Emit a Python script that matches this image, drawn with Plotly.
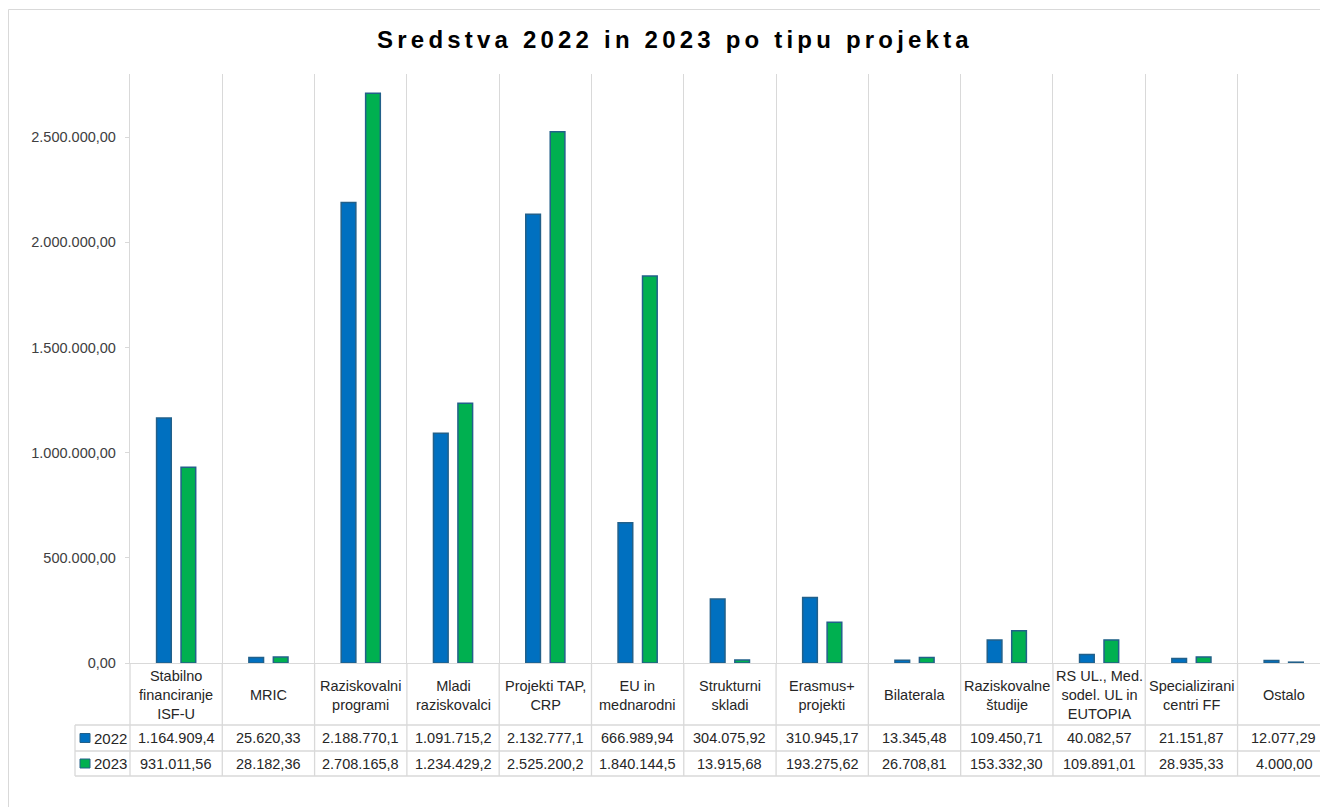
import plotly.graph_objects as go

# ---------------- data ----------------
title_text = "Sredstva 2022 in 2023 po tipu projekta"
categories = [
    "Stabilno\nfinanciranje\nISF-U",
    "MRIC",
    "Raziskovalni\nprogrami",
    "Mladi\nraziskovalci",
    "Projekti TAP,\nCRP",
    "EU in\nmednarodni",
    "Strukturni\nskladi",
    "Erasmus+\nprojekti",
    "Bilaterala",
    "Raziskovalne\nštudije",
    "RS UL., Med.\nsodel. UL in\nEUTOPIA",
    "Specializirani\ncentri FF",
    "Ostalo",
]
series_names = ["2022", "2023"]
values_2022 = [1164909.4, 25620.33, 2188770.1, 1091715.2, 2132777.1, 666989.94,
               304075.92, 310945.17, 13345.48, 109450.71, 40082.57, 21151.87, 12077.29]
values_2023 = [931011.56, 28182.36, 2708165.8, 1234429.2, 2525200.2, 1840144.5,
               13915.68, 193275.62, 26708.81, 153332.30, 109891.01, 28935.33, 4000.00]
y_tick_values = [0, 500000, 1000000, 1500000, 2000000, 2500000]

# ---------------- styles / geometry ----------------
OFF = 8                      # page body margin of the html page
W, H = 1328 - OFF, 807 - OFF
L_PAGE, T_PAGE, AXIS_Y_PAGE = 130, 74, 663
L, R, T = L_PAGE - OFF, 0, T_PAGE - OFF
B = H - (AXIS_Y_PAGE - OFF)
PW, PH = W - L - R, AXIS_Y_PAGE - T_PAGE
X_RANGE = [-0.5, 12.48]
Y_RANGE = [0, 2800000]
COLORS = ["#0070C0", "#00B050"]
OUTLINE = "#22608A"
GRID = "#D9D9D9"
FONT = "Liberation Sans, Arial, sans-serif"
TEXT = "#262626"


def xp(px):
    """page pixel x -> paper coordinate"""
    return (px - L_PAGE) / PW


def yp(py):
    """page pixel y -> paper coordinate"""
    return (AXIS_Y_PAGE - py) / PH


def fmt(v):
    dec = 1 if v >= 1e6 else 2
    s = f"{v:,.{dec}f}"
    return s.replace(",", "X").replace(".", ",").replace("X", ".")


fig = go.Figure()
for name, vals, col in zip(series_names, [values_2022, values_2023], COLORS):
    fig.add_trace(go.Bar(
        x=categories, y=vals, name=name,
        marker=dict(color=col, line=dict(color=OUTLINE, width=1.5)),
        hoverinfo="x+y",
    ))

# table geometry (page pixels)
HEADER_TOP, HEADER_BOT, ROW1_BOT, ROW2_BOT = AXIS_Y_PAGE, 725, 751, 776
LEG_LEFT = 75
row_centers = [(HEADER_BOT + ROW1_BOT) / 2, (ROW1_BOT + ROW2_BOT) / 2]

annotations = []
for c in categories:
    annotations.append(dict(
        x=c, xref="x", y=yp((HEADER_TOP + HEADER_BOT) / 2 + 1), yref="paper",
        text=c.replace("\n", "<br>"), showarrow=False, xanchor="center",
        yanchor="middle", align="center",
        font=dict(family=FONT, size=14.5, color=TEXT),
    ))
for vals, rc in zip([values_2022, values_2023], row_centers):
    for c, v in zip(categories, vals):
        annotations.append(dict(
            x=c, xref="x", y=yp(rc), yref="paper", text=fmt(v),
            showarrow=False, xanchor="center", yanchor="middle",
            font=dict(family=FONT, size=14.5, color=TEXT),
        ))

shapes = []
for name, col, rc in zip(series_names, COLORS, row_centers):
    shapes.append(dict(type="rect", xref="paper", yref="paper",
                       x0=xp(80), x1=xp(90), y0=yp(rc - 4.5), y1=yp(rc + 4.5),
                       fillcolor=col, line=dict(color=OUTLINE, width=1)))
    annotations.append(dict(
        x=xp(92), xref="paper", y=yp(rc), yref="paper", text=name,
        showarrow=False, xanchor="left", yanchor="middle",
        font=dict(family=FONT, size=15, color=TEXT),
    ))

n = len(categories)
span = X_RANGE[1] - X_RANGE[0]
for k in range(n + 1):
    x = k / span
    shapes.append(dict(type="line", xref="paper", yref="paper",
                       x0=x, x1=x, y0=0, y1=yp(ROW2_BOT),
                       line=dict(color=GRID, width=1.3)))
shapes.append(dict(type="line", xref="paper", yref="paper",
                   x0=xp(LEG_LEFT), x1=xp(LEG_LEFT), y0=yp(HEADER_BOT), y1=yp(ROW2_BOT),
                   line=dict(color=GRID, width=1.3)))
for py in [HEADER_BOT, ROW1_BOT, ROW2_BOT]:
    shapes.append(dict(type="line", xref="paper", yref="paper",
                       x0=xp(LEG_LEFT), x1=1.02, y0=yp(py), y1=yp(py),
                       line=dict(color=GRID, width=1.3)))
shapes.append(dict(type="rect", xref="paper", yref="paper",
                   x0=xp(8.5), x1=1.05, y0=-0.4, y1=yp(9.5),
                   line=dict(color=GRID, width=1), fillcolor="rgba(0,0,0,0)", layer="below"))

fig.update_layout(
    width=W, height=H,
    margin=dict(l=L, r=R, t=T, b=B, pad=0),
    template="none",
    paper_bgcolor="white", plot_bgcolor="white",
    separators=",.",
    showlegend=False,
    barmode="group", bargap=0.47, bargroupgap=0.4,
    title=dict(
        text=f'<span style="letter-spacing:4.2px">{title_text}</span>',
        x=(675 - OFF) / W, xanchor="center", xref="container",
        y=1 - (40 - OFF) / H, yanchor="middle", yref="container",
        font=dict(family=FONT, size=24, color="#000000", weight="bold"),
    ),
    xaxis=dict(
        type="category", range=X_RANGE, tickson="boundaries",
        showgrid=True, gridcolor=GRID, gridwidth=1,
        showticklabels=False, ticks="", showline=True, linecolor=GRID, linewidth=1.3,
        zeroline=False,
    ),
    yaxis=dict(
        range=Y_RANGE, tickvals=y_tick_values, tickformat=",.2f",
        ticks="outside", ticklen=4, tickcolor=GRID, tickwidth=1.3,
        showline=True, linecolor=GRID, linewidth=1.3, showgrid=False, zeroline=False,
        tickfont=dict(family=FONT, size=14.5, color="#404040"),
        ticklabelstandoff=6,
    ),
    annotations=annotations,
    shapes=shapes,
)

fig.write_html("out.html")
